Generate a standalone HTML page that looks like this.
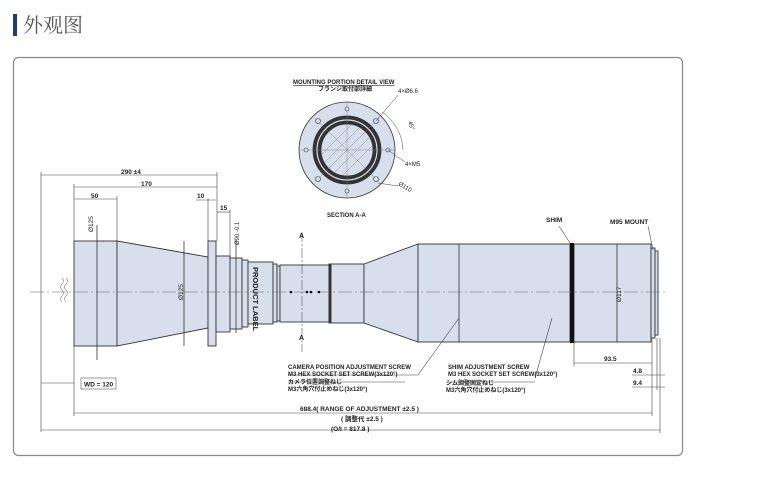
<!DOCTYPE html>
<html><head><meta charset="utf-8"><style>
body{margin:0;background:#fff;width:767px;height:477px;overflow:hidden}
svg{display:block}
text{font-family:"Liberation Sans","Noto Sans CJK JP",sans-serif;font-weight:bold;fill:#222}
</style></head><body>
<svg width="767" height="477" viewBox="0 0 767 477" xmlns="http://www.w3.org/2000/svg">
<rect x="13" y="14" width="4" height="22" fill="#1f3d73"/>
<text x="23" y="32" style="font-size:20px;font-weight:normal;fill:#555;font-family:'Noto Serif CJK SC','Noto Sans CJK SC',serif">外观图</text>
<rect x="13.5" y="57.5" width="669" height="398" rx="5" fill="#fff" stroke="#888" stroke-width="1.2"/>

<g fill="#d6dfeb" stroke="#333" stroke-width="0.9">
<rect x="74" y="241" width="43" height="105"/>
<polygon points="117,241 208,257 208,328 117,346"/>
<rect x="208" y="241" width="8" height="105"/>
<rect x="216" y="256" width="14" height="76"/>
<rect x="230" y="258" width="12" height="71"/>
<rect x="242" y="260" width="6" height="67"/>
<rect x="248" y="262" width="25" height="62"/>
<rect x="273" y="264" width="4" height="58"/>
<rect x="277" y="266" width="3" height="55"/>
<rect x="280" y="265" width="49" height="57"/>
<rect x="329" y="264" width="2.5" height="59" fill="#333"/>
<rect x="331" y="264" width="33" height="59"/>
<polygon points="364,264 418,244 418,342 364,323"/>
<rect x="418" y="244" width="152" height="98"/>
<rect x="574" y="244" width="77" height="98"/>
<rect x="651" y="248" width="4" height="90"/>
<rect x="655" y="251" width="3" height="84"/>
</g>
<rect x="570" y="243" width="4" height="100" fill="#111"/>
<g stroke="#333" stroke-width="0.8" fill="none">
<line x1="459" y1="244" x2="459" y2="342"/>
<line x1="97" y1="225" x2="97" y2="360"/>
<line x1="184" y1="241" x2="184" y2="346"/>
<line x1="236" y1="240" x2="236" y2="333"/>
<line x1="617" y1="244" x2="617" y2="342"/>
</g>
<line x1="30" y1="292" x2="668" y2="292" stroke="#666" stroke-width="0.6" stroke-dasharray="14,3,2,3"/>
<line x1="302" y1="232" x2="302" y2="352" stroke="#555" stroke-width="0.6" stroke-dasharray="10,2,2,2"/>
<g fill="#111"><circle cx="291" cy="292" r="1.3"/><circle cx="307" cy="292" r="1.3"/><circle cx="311" cy="292" r="1.3"/><circle cx="319" cy="292" r="1.3"/></g>
<path d="M62 278 q3 3 0 6 q-3 3 0 6 q3 3 0 6 q-3 3 0 6 M66 278 q3 3 0 6 q-3 3 0 6 q3 3 0 6 q-3 3 0 6" stroke="#888" fill="none" stroke-width="0.6"/>
<text x="299" y="238" style="font-size:7px">A</text>
<text x="299" y="340" style="font-size:7px">A</text>
<text transform="translate(253,267) rotate(90)" style="font-size:7.5px">PRODUCT LABEL</text>
<text transform="translate(183,300) rotate(-90)" style="font-size:6.5px;font-weight:normal">Ø125</text>
<text transform="translate(93,232) rotate(-90)" style="font-size:6.5px;font-weight:normal">Ø125</text>
<text transform="translate(239,245) rotate(-90)" style="font-size:6px;font-weight:normal">Ø90 -0.1</text>
<text transform="translate(621,302) rotate(-90)" style="font-size:6.5px;font-weight:normal">Ø117</text>

<!-- dimension lines -->
<g stroke="#444" stroke-width="0.6">
<line x1="41" y1="175" x2="217" y2="175"/>
<line x1="74" y1="187" x2="217" y2="187"/>
<line x1="74" y1="199" x2="117" y2="199"/>
<line x1="196" y1="200" x2="216" y2="200"/>
<line x1="217" y1="212" x2="230" y2="212"/>
<line x1="41" y1="172" x2="41" y2="432"/>
<line x1="74" y1="184" x2="74" y2="241"/>
<line x1="74" y1="346" x2="74" y2="416"/>
<line x1="117" y1="196" x2="117" y2="241"/>
<line x1="208" y1="198" x2="208" y2="241"/>
<line x1="217" y1="172" x2="217" y2="241"/>
<line x1="230" y1="210" x2="230" y2="256"/>
<line x1="41" y1="383" x2="74" y2="383"/>
<line x1="74" y1="413" x2="652" y2="413"/>
<line x1="41" y1="430" x2="660" y2="430"/>
<line x1="574" y1="363" x2="652" y2="363"/>
<line x1="652" y1="338" x2="652" y2="416"/>
<line x1="657" y1="338" x2="657" y2="390"/>
<line x1="660" y1="338" x2="660" y2="433"/>
<line x1="632" y1="375" x2="665" y2="375"/>
<line x1="632" y1="387" x2="665" y2="387"/>
<line x1="574" y1="342" x2="574" y2="366"/>
<line x1="559" y1="226" x2="570" y2="243"/>
<line x1="648" y1="226" x2="653" y2="250"/>
<line x1="418" y1="375" x2="459" y2="318"/>
<line x1="535" y1="378" x2="552" y2="318"/>
<line x1="288" y1="375" x2="418" y2="375"/>
<line x1="448" y1="382" x2="535" y2="382"/>
<line x1="288" y1="382" x2="405" y2="382"/>
</g>
<text x="121" y="174" style="font-size:6.5px">290 ±4</text>
<text x="141" y="186" style="font-size:6.5px">170</text>
<text x="91" y="198" style="font-size:6.5px">50</text>
<text x="197" y="198" style="font-size:6.5px">10</text>
<text x="220" y="210" style="font-size:6.5px">15</text>
<rect x="81" y="378" width="35" height="11" fill="#fff" stroke="#555" stroke-width="0.6"/>
<text x="84" y="386.5" style="font-size:6.5px">WD = 120</text>
<text x="300" y="411" style="font-size:6.5px">688.4( RANGE OF ADJUSTMENT ±2.5 )</text>
<text x="341" y="421" style="font-size:6.5px">( 調整代 ±2.5 )</text>
<text x="331" y="431" style="font-size:6.5px">(O/I = 817.8 )</text>
<text x="604" y="361" style="font-size:6.5px">93.5</text>
<text x="633" y="373" style="font-size:6.5px">4.8</text>
<text x="633" y="385" style="font-size:6.5px">9.4</text>
<text x="546" y="222" style="font-size:6.5px">SHIM</text>
<text x="610" y="224" style="font-size:6.5px">M95 MOUNT</text>
<g style="font-size:6px">
<text x="288" y="369">CAMERA   POSITION ADJUSTMENT SCREW</text>
<text x="288" y="376">M3 HEX SOCKET SET SCREW(3x120°)</text>
<text x="288" y="384">カメラ位置調整ねじ</text>
<text x="288" y="391">M3六角穴付止めねじ(3x120°)</text>
<text x="448" y="369">SHIM ADJUSTMENT SCREW</text>
<text x="448" y="376">M3 HEX SOCKET SET SCREW(3x120°)</text>
<text x="446" y="385">シム調整固定ねじ</text>
<text x="446" y="392">M3六角穴付止めねじ(3x120°)</text>
</g>

<!-- section view -->
<text x="293" y="84" style="font-size:6px;text-decoration:underline">MOUNTING PORTION DETAIL VIEW</text>
<text x="318" y="91" style="font-size:6px">フランジ取付部詳細</text>
<text x="398" y="93" style="font-size:6px;font-weight:normal">4×Ø6.6</text>
<text transform="translate(408,122) rotate(70)" style="font-size:6px;font-weight:normal">45°</text>
<text x="405" y="166" style="font-size:6px;font-weight:normal">4×M5</text>
<text transform="translate(398,185) rotate(30)" style="font-size:6px;font-weight:normal">Ø110</text>
<text x="327" y="217" style="font-size:6px">SECTION A-A</text>
<g stroke="#333" stroke-width="0.8">
<circle cx="347" cy="150" r="48" fill="#d6dfeb"/>
<circle cx="347" cy="150" r="34" fill="#333"/>
<circle cx="347" cy="150" r="31" fill="#d6dfeb"/>
<circle cx="347" cy="150" r="29" fill="#333"/>
<circle cx="347" cy="150" r="26" fill="#d6dfeb"/>
</g>
<g stroke="#777" stroke-width="0.4">
<line x1="329" y1="168" x2="365" y2="132"/><line x1="335" y1="172" x2="369" y2="138"/><line x1="325" y1="162" x2="359" y2="128"/><line x1="343" y1="175" x2="372" y2="146"/><line x1="322" y1="154" x2="351" y2="125"/>
<line x1="299" y1="150" x2="395" y2="150"/><line x1="347" y1="102" x2="347" y2="198"/>
<line x1="315" y1="118" x2="379" y2="182"/><line x1="379" y1="118" x2="315" y2="182"/>
</g>
<g fill="#d6dfeb" stroke="#333" stroke-width="0.6">
<circle cx="347" cy="109" r="2"/><circle cx="347" cy="191" r="2"/><circle cx="306" cy="150" r="2"/><circle cx="388" cy="150" r="2"/>
<circle cx="318" cy="121" r="2.5"/><circle cx="376" cy="121" r="2.5"/><circle cx="318" cy="179" r="2.5"/><circle cx="376" cy="179" r="2.5"/>
</g>
<g stroke="#444" stroke-width="0.5" fill="none">
<line x1="376" y1="121" x2="398" y2="95"/>
<path d="M382 112 A48 48 0 0 1 403 150"/>
<line x1="388" y1="150" x2="405" y2="162"/>
<line x1="378" y1="183" x2="398" y2="186"/>
</g>
</svg>
</body></html>
